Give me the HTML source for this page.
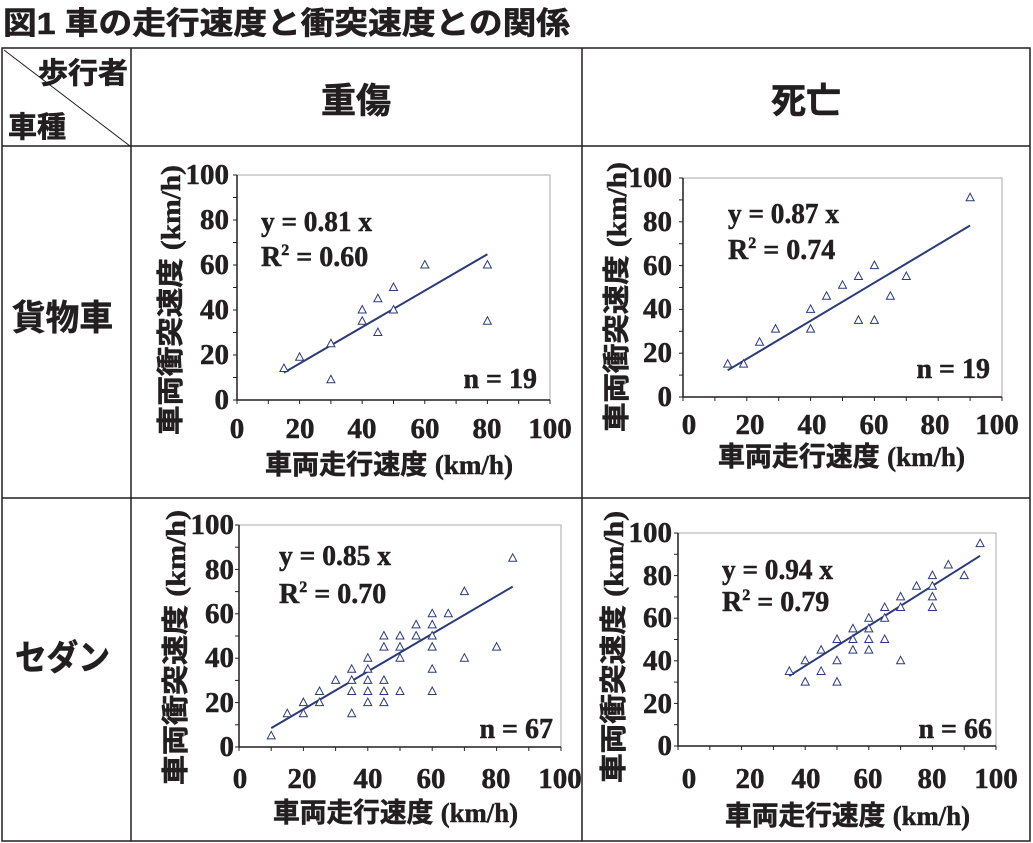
<!DOCTYPE html>
<html><head><meta charset="utf-8"><style>
body{margin:0;background:#fff}
svg{display:block}
.j{font-family:"Liberation Sans","Noto Sans CJK JP",sans-serif;font-weight:bold;fill:#231f20;stroke:#231f20;stroke-width:0.6}
.s{font-family:"Liberation Serif","Noto Serif CJK SC",serif;font-weight:bold;fill:#231f20;stroke:#231f20;stroke-width:0.5}
</style></head><body>
<svg id="c" width="1033" height="843" viewBox="0 0 1033 843" xmlns="http://www.w3.org/2000/svg">
<rect width="1033" height="843" fill="#fff"/>
<text class="j" x="3" y="34" font-size="31" textLength="567" lengthAdjust="spacingAndGlyphs">図1 車の走行速度と衝突速度との関係</text>
<g stroke="#231f20" stroke-width="1.5" fill="none">
<rect x="2" y="48" width="1028" height="793"/>
<line x1="131" y1="48" x2="131" y2="841"/>
<line x1="582" y1="48" x2="582" y2="841"/>
<line x1="2" y1="146" x2="1030" y2="146"/>
<line x1="2" y1="498" x2="1030" y2="498"/>
<line x1="4" y1="50" x2="130" y2="146" stroke-width="1"/>
</g>
<text class="j" x="38" y="83" font-size="29" textLength="90" lengthAdjust="spacingAndGlyphs">歩行者</text>
<text class="j" x="8" y="137" font-size="29">車種</text>
<text class="j" x="356" y="113" font-size="35" text-anchor="middle">重傷</text>
<text class="j" x="806" y="113" font-size="35" text-anchor="middle">死亡</text>
<text class="j" x="12" y="330" font-size="35" textLength="101" lengthAdjust="spacingAndGlyphs">貨物車</text>
<text class="j" x="15" y="670" font-size="35" textLength="95" lengthAdjust="spacingAndGlyphs">セダン</text>

<!-- TL -->
<text class="s" x="261" y="231" font-size="28" textLength="111" lengthAdjust="spacingAndGlyphs">y = 0.81 x</text>
<text class="s" x="261" y="266" font-size="28">R<tspan font-size="16" dy="-11">2</tspan><tspan dy="11"> = 0.60</tspan></text>
<text class="s" x="537" y="388" font-size="28" text-anchor="end">n = 19</text>
<text class="j" x="265" y="474" font-size="27" textLength="248" lengthAdjust="spacingAndGlyphs">車両走行速度 <tspan class="s">(km/h)</tspan></text>
<text class="j" transform="translate(180,435) rotate(-90)" font-size="27" textLength="270" lengthAdjust="spacingAndGlyphs">車両衝突速度 <tspan class="s">(km/h)</tspan></text>
<!-- TR -->
<text class="s" x="728" y="223" font-size="28" textLength="111" lengthAdjust="spacingAndGlyphs">y = 0.87 x</text>
<text class="s" x="728" y="259" font-size="28">R<tspan font-size="16" dy="-11">2</tspan><tspan dy="11"> = 0.74</tspan></text>
<text class="s" x="990" y="378" font-size="28" text-anchor="end">n = 19</text>
<text class="j" x="718" y="466" font-size="27" textLength="247" lengthAdjust="spacingAndGlyphs">車両走行速度 <tspan class="s">(km/h)</tspan></text>
<text class="j" transform="translate(626,432) rotate(-90)" font-size="27" textLength="270" lengthAdjust="spacingAndGlyphs">車両衝突速度 <tspan class="s">(km/h)</tspan></text>
<!-- BL -->
<text class="s" x="279" y="565" font-size="28" textLength="112" lengthAdjust="spacingAndGlyphs">y = 0.85 x</text>
<text class="s" x="279" y="603" font-size="28">R<tspan font-size="16" dy="-11">2</tspan><tspan dy="11"> = 0.70</tspan></text>
<text class="s" x="553" y="738" font-size="28" text-anchor="end">n = 67</text>
<text class="j" x="273" y="822" font-size="27" textLength="245" lengthAdjust="spacingAndGlyphs">車両走行速度 <tspan class="s">(km/h)</tspan></text>
<text class="j" transform="translate(185,785) rotate(-90)" font-size="27" textLength="275" lengthAdjust="spacingAndGlyphs">車両衝突速度 <tspan class="s">(km/h)</tspan></text>
<!-- BR -->
<text class="s" x="722" y="579" font-size="28" textLength="111" lengthAdjust="spacingAndGlyphs">y = 0.94 x</text>
<text class="s" x="722" y="611" font-size="28">R<tspan font-size="16" dy="-11">2</tspan><tspan dy="11"> = 0.79</tspan></text>
<text class="s" x="992" y="738" font-size="28" text-anchor="end">n = 66</text>
<text class="j" x="725" y="825" font-size="27" textLength="245" lengthAdjust="spacingAndGlyphs">車両走行速度 <tspan class="s">(km/h)</tspan></text>
<text class="j" transform="translate(623,783) rotate(-90)" font-size="27" textLength="272" lengthAdjust="spacingAndGlyphs">車両衝突速度 <tspan class="s">(km/h)</tspan></text>

<g id="TL"><text class="s" x="229" y="409" font-size="29" text-anchor="end">0</text><text class="s" x="229" y="364" font-size="29" text-anchor="end">20</text><text class="s" x="229" y="319" font-size="29" text-anchor="end">40</text><text class="s" x="229" y="274" font-size="29" text-anchor="end">60</text><text class="s" x="229" y="229" font-size="29" text-anchor="end">80</text><text class="s" x="229" y="184" font-size="29" text-anchor="end">100</text>
<text class="s" x="237" y="438" font-size="29" text-anchor="middle">0</text><text class="s" x="300" y="438" font-size="29" text-anchor="middle">20</text><text class="s" x="362" y="438" font-size="29" text-anchor="middle">40</text><text class="s" x="425" y="438" font-size="29" text-anchor="middle">60</text><text class="s" x="487" y="438" font-size="29" text-anchor="middle">80</text><text class="s" x="550" y="438" font-size="29" text-anchor="middle">100</text></g>
<g id="TR"><text class="s" x="672" y="406" font-size="29" text-anchor="end">0</text><text class="s" x="672" y="362" font-size="29" text-anchor="end">20</text><text class="s" x="672" y="318" font-size="29" text-anchor="end">40</text><text class="s" x="672" y="275" font-size="29" text-anchor="end">60</text><text class="s" x="672" y="231" font-size="29" text-anchor="end">80</text><text class="s" x="672" y="187" font-size="29" text-anchor="end">100</text>
<text class="s" x="689" y="434" font-size="29" text-anchor="middle">0</text><text class="s" x="750" y="434" font-size="29" text-anchor="middle">20</text><text class="s" x="812" y="434" font-size="29" text-anchor="middle">40</text><text class="s" x="874" y="434" font-size="29" text-anchor="middle">60</text><text class="s" x="935" y="434" font-size="29" text-anchor="middle">80</text><text class="s" x="997" y="434" font-size="29" text-anchor="middle">100</text></g>
<g id="BL"><text class="s" x="234" y="756" font-size="29" text-anchor="end">0</text><text class="s" x="234" y="712" font-size="29" text-anchor="end">20</text><text class="s" x="234" y="667" font-size="29" text-anchor="end">40</text><text class="s" x="234" y="623" font-size="29" text-anchor="end">60</text><text class="s" x="234" y="579" font-size="29" text-anchor="end">80</text><text class="s" x="234" y="534" font-size="29" text-anchor="end">100</text>
<text class="s" x="240" y="788" font-size="29" text-anchor="middle">0</text><text class="s" x="302" y="788" font-size="29" text-anchor="middle">20</text><text class="s" x="368" y="788" font-size="29" text-anchor="middle">40</text><text class="s" x="431" y="788" font-size="29" text-anchor="middle">60</text><text class="s" x="496" y="788" font-size="29" text-anchor="middle">80</text><text class="s" x="560" y="788" font-size="29" text-anchor="middle">100</text></g>
<g id="BR"><text class="s" x="672" y="755" font-size="29" text-anchor="end">0</text><text class="s" x="672" y="713" font-size="29" text-anchor="end">20</text><text class="s" x="672" y="670" font-size="29" text-anchor="end">40</text><text class="s" x="672" y="627" font-size="29" text-anchor="end">60</text><text class="s" x="672" y="585" font-size="29" text-anchor="end">80</text><text class="s" x="672" y="542" font-size="29" text-anchor="end">100</text>
<text class="s" x="689" y="788" font-size="29" text-anchor="middle">0</text><text class="s" x="750" y="788" font-size="29" text-anchor="middle">20</text><text class="s" x="806" y="788" font-size="29" text-anchor="middle">40</text><text class="s" x="868" y="788" font-size="29" text-anchor="middle">60</text><text class="s" x="932" y="788" font-size="29" text-anchor="middle">80</text><text class="s" x="996" y="788" font-size="29" text-anchor="middle">100</text></g>
<g id="plots"></g>
</svg>
<script>
var C=[
{x0:237,x1:550,y0:400,y1:175,k:.81,l:[15,80],p:[[15,14],[20,19],[30,25],[30,9],[40,40],[40,35],[45,45],[45,30],[50,50],[50,40],[60,60],[80,60],[80,35]]},
{x0:683,x1:1002,y0:397,y1:178,k:.87,l:[14,90],p:[[14,15],[19,15],[24,25],[29,31],[40,40],[40,31],[45,46],[50,51],[55,55],[55,35],[60,60],[60,35],[65,46],[70,55],[90,91]]},
{x0:239,x1:561,y0:747,y1:525,k:.85,l:[10,85],p:[[10,5],[15,15],[20,20],[20,15],[25,25],[25,20],[30,30],[35,35],[35,30],[35,25],[35,15],[40,40],[40,35],[40,30],[40,25],[40,20],[45,50],[45,45],[45,30],[45,25],[45,20],[50,50],[50,45],[50,40],[50,25],[55,55],[55,50],[60,60],[60,55],[60,50],[60,45],[60,35],[60,25],[65,60],[70,70],[70,40],[80,45],[85,85]]},
{x0:678,x1:996,y0:746,y1:533,k:.94,l:[35,95],p:[[35,35],[40,40],[40,30],[45,45],[45,35],[50,50],[50,40],[50,30],[55,55],[55,50],[55,45],[60,60],[60,55],[60,50],[60,45],[65,65],[65,60],[65,50],[70,70],[70,65],[70,40],[75,75],[80,80],[80,75],[80,70],[80,65],[85,85],[90,80],[95,95]]}];
var s='';
C.forEach(function(c){
 function X(v){return c.x0+(c.x1-c.x0)*v/100}
 function Y(v){return c.y0+(c.y1-c.y0)*v/100}
 s+='<path d="M'+c.x0+' '+c.y1+'H'+c.x1+'V'+c.y0+'" fill="none" stroke="#aaa" stroke-width="1"/>';
 s+='<path d="M'+c.x0+' '+c.y1+'V'+c.y0+'H'+c.x1+'" fill="none" stroke="#231f20" stroke-width="1.5"/>';
 for(var i=0;i<=10;i++){s+='<line x1="'+(c.x0-4)+'" y1="'+Y(i*10)+'" x2="'+c.x0+'" y2="'+Y(i*10)+'" stroke="#231f20"/>';
  s+='<line x1="'+X(i*10)+'" y1="'+c.y0+'" x2="'+X(i*10)+'" y2="'+(c.y0+4)+'" stroke="#231f20"/>';}
 s+='<line x1="'+X(c.l[0])+'" y1="'+Y(c.l[0]*c.k)+'" x2="'+X(c.l[1])+'" y2="'+Y(c.l[1]*c.k)+'" stroke="#2b3a7a" stroke-width="2"/>';
 c.p.forEach(function(q){var x=X(q[0]),y=Y(q[1]);
  s+='<path d="M'+x+' '+(y-4.5)+'L'+(x+4)+' '+(y+3)+'L'+(x-4)+' '+(y+3)+'Z" fill="#fff" stroke="#2b3a7a" stroke-width="1"/>';});
});
document.getElementById('plots').innerHTML=s;
</script>
</body></html>
